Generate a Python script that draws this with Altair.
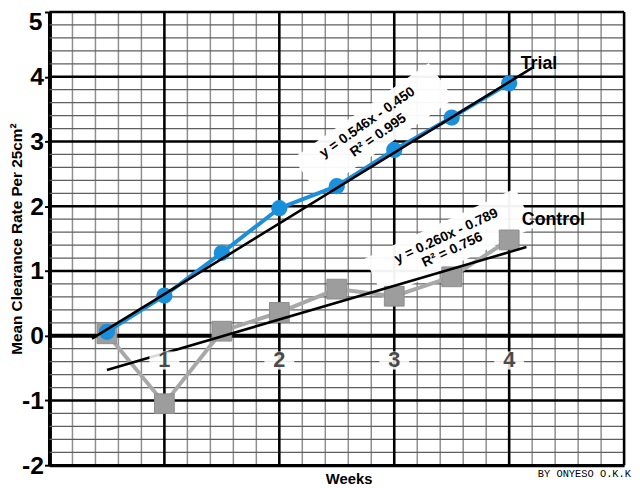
import altair as alt
import pandas as pd
import numpy as np

# ---- data ----
weeks = [0.5, 1, 1.5, 2, 2.5, 3, 3.5, 4]
trial = [0.06, 0.62, 1.28, 1.97, 2.31, 2.87, 3.37, 3.90]
control = [0.03, -1.05, 0.07, 0.36, 0.72, 0.61, 0.91, 1.48]

# Excel trendlines (x = point index = 2 * week)
trial_fit = (0.546, -0.450)
control_fit = (0.260, -0.789)
trial_fit_span = [0.37, 4.2]
control_fit_span = [0.5, 4.15]

trial_eq = ["y = 0.546x - 0.450", "R\u00b2 = 0.995"]
control_eq = ["y = 0.260x - 0.789", "R\u00b2 = 0.756"]
series_names = ["Trial", "Control"]

y_major = [-2, -1, 0, 1, 2, 3, 4, 5]
x_major = [1, 2, 3, 4, 5]
x_labels = [1, 2, 3, 4]
x_minor = [round(v, 1) for v in np.arange(0, 5.001, 0.2) if abs(v - round(v)) > 1e-6]
y_minor = [round(v, 1) for v in np.arange(-2, 5.001, 0.2) if abs(v - round(v)) > 1e-6]

FONT = "Liberation Sans"
BLUE = "#1a8fdc"
GRAY = "#9d9d9d"

xs = alt.Scale(domain=[0, 5], nice=False, zero=False)
ys = alt.Scale(domain=[-2, 5], nice=False, zero=False)

xaxis = alt.Axis(labels=False, ticks=False, grid=False, domain=True, domainWidth=3,
                 domainColor="black", title="Weeks", titleFont=FONT, titleFontSize=15,
                 titleFontWeight="bold", titleColor="black", titleX=303, titleY=14,
                 titleBaseline="middle")
yaxis = alt.Axis(values=y_major,
                 labelExpr="datum.value == 5 ? '' : (datum.value < 0 ? '-' + (-datum.value) : '' + datum.value)",
                 labelFont=FONT, labelFontWeight="bold", labelFontSize=25,
                 labelColor="black", labelPadding=1, tickSize=5, tickWidth=2,
                 tickColor="black", grid=False, domainWidth=4, domainColor="black",
                 title="Mean Clearance Rate Per 25cm\u00b2", titleFont=FONT,
                 titleFontSize=15.5, titleFontWeight="bold", titleColor="black",
                 titleAngle=270, titleX=-33, titleY=229.5, titleBaseline="middle",
                 titleAlign="center")

X = alt.X("x:Q", scale=xs, axis=xaxis)
Y = alt.Y("y:Q", scale=ys, axis=yaxis)

def df(**cols):
    return pd.DataFrame(cols)

# grid
v_minor = alt.Chart(df(x=x_minor)).mark_rule(color="#8f8f8f", strokeWidth=1.5).encode(x=X)
h_minor = alt.Chart(df(y=y_minor)).mark_rule(color="#5e5e5e", strokeWidth=1.3).encode(y=Y)
v_major = alt.Chart(df(x=x_major)).mark_rule(color="black", strokeWidth=2.6).encode(x=X)
h_major = alt.Chart(df(y=[v for v in y_major if v != 0])).mark_rule(color="black", strokeWidth=2.6).encode(y=Y)
h_zero = alt.Chart(df(y=[0])).mark_rule(color="black", strokeWidth=4).encode(y=Y)

# white boxes behind the trendline equations (centre, angle in px space)
def box(cx_px, cy_px, ang, half=84):
    cx = (cx_px - 50) / 116.4
    cy = (336.9 - cy_px) / 65.57
    dx = half * np.cos(np.radians(ang)) / 116.4
    dy = half * np.sin(np.radians(ang)) / 65.57
    return [cx - dx, cx + dx], [cy - dy, cy + dy]

bx1, by1 = box(378, 127, 35)
bx2, by2 = box(455, 243, 25)
boxes = alt.Chart(df(x=bx1 + bx2, y=by1 + by2, g=["t", "t", "c", "c"])).mark_line(
    color="white", strokeWidth=44, strokeCap="butt", opacity=0.95).encode(x=X, y=Y, detail="g:N")

# control series
ctrl_df = df(x=weeks, y=control)
ctrl_line = alt.Chart(ctrl_df).mark_line(color="#a8a8a8", strokeWidth=4).encode(x=X, y=Y)
ctrl_pts = alt.Chart(ctrl_df).mark_point(shape="square", filled=True, size=400, color=GRAY,
                                         opacity=1, stroke="#8c8c8c", strokeWidth=1).encode(x=X, y=Y)
cfx = control_fit_span
ctrl_fit = alt.Chart(df(x=cfx, y=[control_fit[0] * 2 * v + control_fit[1] for v in cfx])).mark_line(
    color="black", strokeWidth=2.6).encode(x=X, y=Y)

# trial series
tr_df = df(x=weeks, y=trial)
tr_line = alt.Chart(tr_df).mark_line(color=BLUE, strokeWidth=4).encode(x=X, y=Y)
tr_pts = alt.Chart(tr_df).mark_circle(size=270, color=BLUE, opacity=1).encode(x=X, y=Y)
tfx = trial_fit_span
tr_fit = alt.Chart(df(x=tfx, y=[trial_fit[0] * 2 * v + trial_fit[1] for v in tfx])).mark_line(
    color="black", strokeWidth=2.6).encode(x=X, y=Y)

# week labels inside the plot
lab_y = -0.383
lab_rect = alt.Chart(df(x=[v - 0.13 for v in x_labels], x2=[v + 0.13 for v in x_labels],
                        y=[lab_y - 0.14] * 4, y2=[lab_y + 0.14] * 4)).mark_rect(
    color="white", opacity=0.85).encode(x=X, x2="x2:Q", y=Y, y2="y2:Q")
lab_text = alt.Chart(df(x=x_labels, y=[lab_y] * 4, t=[str(v) for v in x_labels])).mark_text(
    font=FONT, fontWeight="bold", fontSize=22, color="#4a4a4a", align="center",
    baseline="middle").encode(x=X, y=Y, text="t:N")

# equations
def pxdata(px, py):
    return (px - 50) / 116.4, (336.9 - py) / 65.57

t1 = pxdata(372, 121); t2 = pxdata(383, 134)
c1 = pxdata(452, 236); c2 = pxdata(458, 250)
tr_eq = alt.Chart(df(x=[t1[0], t2[0]], y=[t1[1], t2[1]], t=trial_eq)).mark_text(
    font=FONT, fontWeight="bold", fontSize=14, color="black", angle=325,
    align="center", baseline="middle").encode(x=X, y=Y, text="t:N")
ct_eq = alt.Chart(df(x=[c1[0], c2[0]], y=[c1[1], c2[1]], t=control_eq)).mark_text(
    font=FONT, fontWeight="bold", fontSize=14, color="black", angle=335,
    align="center", baseline="middle").encode(x=X, y=Y, text="t:N")

names = alt.Chart(df(x=[4.10, 4.11], y=[4.19, 1.78], t=series_names)).mark_text(
    font=FONT, fontWeight="bold", fontSize=18, color="black", align="left",
    baseline="middle").encode(x=X, y=Y, text="t:N")

top_label = alt.Chart(df(x=[0], y=[5], t=["5"])).mark_text(
    font=FONT, fontWeight="bold", fontSize=25, color="black", align="right",
    baseline="middle", dx=-7, dy=10).encode(x=X, y=Y, text="t:N")

sig = alt.Chart(df(x=[5], y=[-2], t=["BY ONYESO O.K.K"])).mark_text(
    font="Liberation Mono", fontSize=10.5, color="black", align="right",
    baseline="middle", dx=7, dy=9).encode(x=X, y=Y, text="t:N")

chart = alt.layer(
    v_minor, h_minor, v_major, h_major, h_zero, boxes,
    ctrl_line, ctrl_pts, ctrl_fit, tr_line, tr_pts, tr_fit,
    lab_rect, lab_text, tr_eq, ct_eq, names, top_label, sig
).properties(
    width=582, height=459, autosize="none",
    padding={"left": 42, "top": 1, "right": 8, "bottom": 20},
    background="white"
).configure_view(stroke=None)

chart.save("out.html", embed_options={"renderer": "svg", "actions": False})
